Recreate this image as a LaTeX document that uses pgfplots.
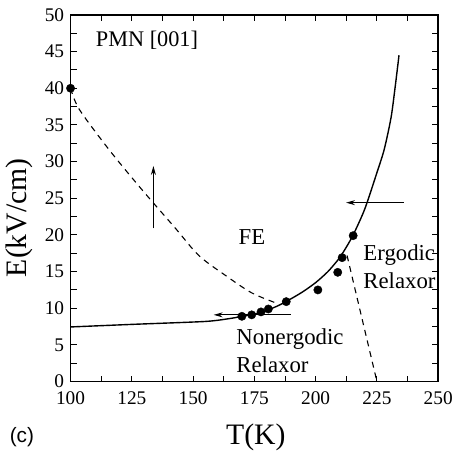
\documentclass[border=0pt]{standalone}
\usepackage{fontspec}
\setmainfont{Liberation Serif}
\newfontfamily\arial{Liberation Sans}
\usepackage{pgfplots}
\pgfplotsset{compat=1.18}
\usetikzlibrary{arrows.meta}

\begin{document}
\begin{tikzpicture}
\begin{axis}[
  scale only axis, width=370bp, height=369bp,
  xmin=100, xmax=250, ymin=0, ymax=50,
  xtick={100,125,...,250}, ytick={0,5,...,50},
  minor x tick num=1, minor y tick num=1,
  tick align=inside, major tick length=6bp, minor tick length=6bp,
  axis line style={line width=1.7bp},
  every tick/.style={line width=1bp, black},
  tick label style={font=\fontsize{19.5}{21}\selectfont},
  xticklabel style={yshift=-7bp},
  yticklabel style={xshift=-3bp},
  /pgf/number format/assume math mode=true,
  xlabel={T(K)}, ylabel={E(kV/cm)},
  label style={font=\fontsize{30}{32}\selectfont},
  xlabel style={at={(axis description cs:0.504,-0.152)}, anchor=center},
  ylabel style={at={(axis description cs:-0.1405,0.447)}, anchor=center},
  clip=false,
]
% solid boundary curve
\addplot[black, line width=1.4bp, smooth, tension=0.4] coordinates {
  (100,7.45) (125,7.8) (155,8.2) (165,8.6) (170,8.9) (175,9.2) (180,9.7)
  (185,10.4) (190,11.3) (195,12.3) (200,13.5) (205,15.0) (210,17.0)
  (215,19.8) (220,23.5) (225,28.5) (228,31.7) (231,36.5) (234,44.5)};
% FE dashed boundary
\addplot[black, line width=1.1bp, dash pattern=on 6bp off 5bp, smooth] coordinates {
  (100,40) (103.6,37.1) (116,31.5) (129.3,26.1) (142.8,20.9) (152.3,17.2)
  (163.1,14.5) (173.9,12.1) (184,10.7)};
% ergodic / nonergodic dashed boundary
\addplot[black, line width=1.1bp, dash pattern=on 6bp off 5bp] coordinates {
  (212.8,17.2) (225,0)};
% data points
\addplot[only marks, mark=*, mark size=4.2bp, black] coordinates {
  (100,40) (169.9,8.9) (173.9,9.1) (177.7,9.5) (180.7,9.9) (188,10.9)
  (200.9,12.5) (209,14.9) (210.8,16.9) (215.3,19.9)};
% arrows
\addplot[black, line width=1bp, -{Stealth[length=9bp,width=5bp]}] coordinates {(133.8,20.9) (133.8,29.4)};
\addplot[black, line width=1bp, -{Stealth[length=9bp,width=5bp]}] coordinates {(236,24.4) (212.4,24.4)};
\addplot[black, line width=1bp, -{Stealth[length=9bp,width=5bp]}] coordinates {(189.9,9.1) (158.4,9.1)};
% annotations
\node[font=\fontsize{22.5}{24}\selectfont, anchor=base, inner sep=0pt] at (axis cs:131.2,45.7) {PMN [001]};
\node[font=\fontsize{23}{25}\selectfont, anchor=base, inner sep=0pt] at (axis cs:174,18.74) {FE};
\node[font=\fontsize{23}{25}\selectfont, anchor=base west, inner sep=0pt] at (axis cs:219.4,16.57) {Ergodic};
\node[font=\fontsize{23}{25}\selectfont, anchor=base west, inner sep=0pt] at (axis cs:219.4,12.74) {Relaxor};
\node[font=\fontsize{23}{25}\selectfont, anchor=base west, inner sep=0pt] at (axis cs:167.6,5.05) {Nonergodic};
\node[font=\fontsize{23}{25}\selectfont, anchor=base west, inner sep=0pt] at (axis cs:167.6,1.22) {Relaxor};
\node[font=\arial\fontsize{21}{23}\selectfont] at (axis description cs:-0.1324,-0.152) {(c)};
\end{axis}
\path (current axis.south west) ++(-71bp,-72bp) rectangle ++(455bp,456bp);
\end{tikzpicture}
\end{document}
